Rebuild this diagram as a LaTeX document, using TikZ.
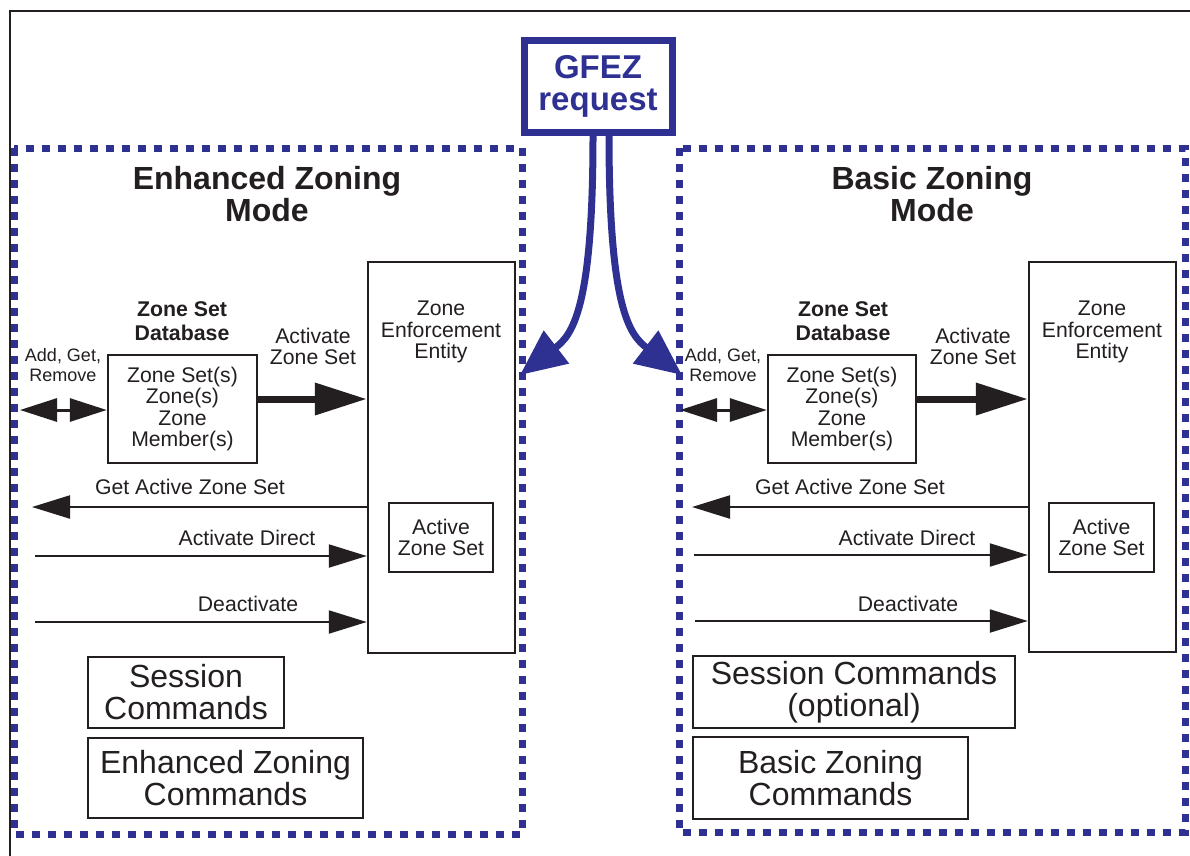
\documentclass[tikz,border=0pt]{standalone}
\usepackage{fontspec}
\setmainfont{Liberation Sans}
\usetikzlibrary{arrows.meta}
\definecolor{fblue}{HTML}{2E3192}
\definecolor{ink}{HTML}{231F20}
\begin{document}
\begin{tikzpicture}[x=1pt,y=-1pt,
  box/.style={draw=ink,line width=2.5pt,inner sep=0pt,align=center,text=ink},
  txt/.style={inner sep=0pt,align=center,text=ink},
  mid/.style={font=\fontsize{21.2}{21.5}\selectfont},
  big/.style={font=\fontsize{32}{32}\selectfont},
  ttl/.style={font=\fontsize{32}{32}\selectfont\bfseries},
  small/.style={font=\fontsize{18}{20}\selectfont},
  dbt/.style={font=\fontsize{21.3}{23.5}\selectfont\bfseries},
  dbox/.style={draw=fblue,line width=7pt,dash pattern=on 8pt off 8pt},
  thinarrow/.style={draw=ink,line width=2.2pt,-{Triangle[length=38pt,width=23pt]}},
  thickarrow/.style={draw=ink,line width=7pt,-{Triangle[length=52pt,width=31pt]}},
  dblarrow/.style={draw=ink,line width=3pt,{Triangle[length=37pt,width=23pt]}-{Triangle[length=37pt,width=23pt]}},
  bluearrow/.style={draw=fblue,line width=7pt,-{Triangle[length=46pt,width=40pt]}}
]
\useasboundingbox (0,0) rectangle (1190,855);
\fill[white] (0,0) rectangle (1190,855);
% outer frame
\draw[ink,line width=2.5pt] (1192,11) -- (10,11) -- (10,857);
% dashed mode boxes
\draw[dbox] (14,148) rectangle (522,834);
\draw[dbox] (679,148) rectangle (1185,832);
% GFEZ
\node[draw=fblue,line width=7pt,minimum width=148pt,minimum height=92pt,inner sep=0pt,align=center,text=fblue,font=\fontsize{33}{32}\selectfont\bfseries] (gfez) at (598,86) {GFEZ\\request};
\coordinate (Ltip) at (520,375);
\coordinate (Rtip) at (682,375);
\draw[bluearrow] ([xshift=-5pt]gfez.south) .. controls (593,310) and (572,335) .. (Ltip);
\draw[bluearrow] ([xshift=11pt]gfez.south) .. controls (609,310) and (630,335) .. (Rtip);

% ---------- Left panel ----------
\node[txt,ttl] (Ltitle) at (267,194) {Enhanced Zoning\\Mode};
\node[box,minimum width=147pt,minimum height=391pt] (Lzee) at (441.5,457.5) {};
\node[txt,mid] (Lzeet) at (441,332) {Zone\\Enforcement\\Entity};
\node[box,mid,minimum width=104pt,minimum height=69pt] (Lact) at (441,537.5) {Active\\Zone Set};
\node[txt,dbt] (Ldbt) at (182,321) {Zone Set\\Database};
\node[box,mid,minimum width=149pt,minimum height=108pt] (Ldb) at (182.5,409) {Zone Set(s)\\Zone(s)\\Zone\\Member(s)};
\node[txt,small] (Ladd) at (63,365) {Add, Get,\\Remove};
\coordinate (Laddend) at (20,410);
\draw[dblarrow] (Laddend) -- (Laddend -| Ldb.west);
\node[txt,mid] (Lactzs) at (313,346.5) {Activate\\Zone Set};
\draw[thickarrow] ([yshift=10pt]Ldb.east) -- ([yshift=10pt]Ldb.east -| Lzee.west);
\coordinate (Lga) at (32,507);
\draw[thinarrow] (Lzee.west |- Lga) -- (Lga);
\node[txt,mid] (Lgat) at (190,487) {Get Active Zone Set};
\coordinate (Lad) at (35,556);
\draw[thinarrow] (Lad) -- (Lad -| Lzee.west);
\node[txt,mid] (Ladt) at (247,538) {Activate Direct};
\coordinate (Lde) at (35,622);
\draw[thinarrow] (Lde) -- (Lde -| Lzee.west);
\node[txt,mid] (Ldet) at (248,604) {Deactivate};
\node[box,big,minimum width=196pt,minimum height=71pt] (Lsess) at (186,692.5) {Session\\Commands};
\node[box,big,minimum width=275pt,minimum height=80pt] (Lenh) at (225.5,778) {Enhanced Zoning\\Commands};

% ---------- Right panel ----------
\node[txt,ttl] (Rtitle) at (932,194) {Basic Zoning\\Mode};
\node[box,minimum width=147pt,minimum height=390pt] (Rzee) at (1102.5,457) {};
\node[txt,mid] (Rzeet) at (1102,332) {Zone\\Enforcement\\Entity};
\node[box,mid,minimum width=105pt,minimum height=69pt] (Ract) at (1101.5,537.5) {Active\\Zone Set};
\node[txt,dbt] (Rdbt) at (843,321) {Zone Set\\Database};
\node[box,mid,minimum width=148pt,minimum height=108pt] (Rdb) at (842,409) {Zone Set(s)\\Zone(s)\\Zone\\Member(s)};
\node[txt,small] (Radd) at (723,365) {Add, Get,\\Remove};
\coordinate (Raddend) at (680,410);
\draw[dblarrow] (Raddend) -- (Raddend -| Rdb.west);
\node[txt,mid] (Ractzs) at (973,346.5) {Activate\\Zone Set};
\draw[thickarrow] ([yshift=10pt]Rdb.east) -- ([yshift=10pt]Rdb.east -| Rzee.west);
\coordinate (Rga) at (692,507);
\draw[thinarrow] (Rzee.west |- Rga) -- (Rga);
\node[txt,mid] (Rgat) at (850,487) {Get Active Zone Set};
\coordinate (Rad) at (694,555);
\draw[thinarrow] (Rad) -- (Rad -| Rzee.west);
\node[txt,mid] (Radt) at (907,538) {Activate Direct};
\coordinate (Rde) at (695,621);
\draw[thinarrow] (Rde) -- (Rde -| Rzee.west);
\node[txt,mid] (Rdet) at (908,604) {Deactivate};
\node[box,big,minimum width=322pt,minimum height=72pt] (Rsess) at (854,692) {Session Commands\\(optional)};
\node[box,big,minimum width=275pt,minimum height=82pt] (Rbas) at (830.5,778) {Basic Zoning\\Commands};
\end{tikzpicture}
\end{document}
